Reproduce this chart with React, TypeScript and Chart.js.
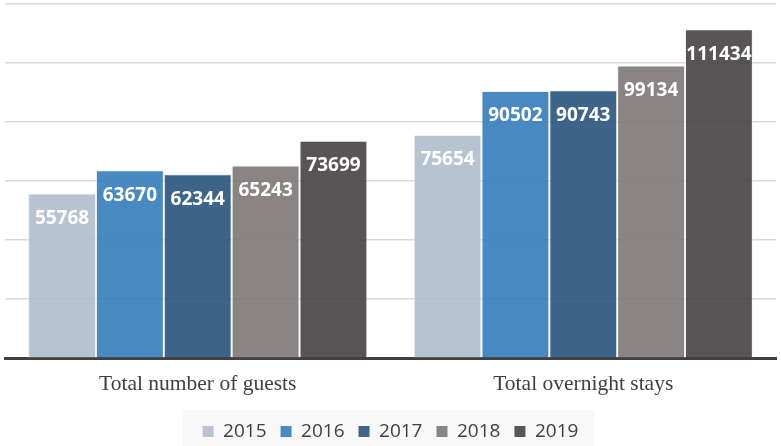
import React, { useEffect, useRef } from "react";
import { Chart, registerables } from "chart.js";

Chart.register(...registerables);

const categories = ["Total number of guests", "Total overnight stays"];
const years = ["2015", "2016", "2017", "2018", "2019"];
const values2015 = [55768, 75654];
const values2016 = [63670, 90502];
const values2017 = [62344, 90743];
const values2018 = [65243, 99134];
const values2019 = [73699, 111434];
const seriesValues = [values2015, values2016, values2017, values2018, values2019];
const colors = [
  "rgba(178,190,206,0.92)",
  "rgba(58,127,189,0.92)",
  "rgba(46,88,127,0.92)",
  "rgba(128,122,121,0.92)",
  "rgba(75,71,72,0.92)",
];
const legendColors = ["#b8c3d2", "#4a89c2", "#3f6589", "#8a8584", "#595657"];

const labelPlugin = {
  id: "barLabels",
  afterDatasetsDraw(chart: any) {
    const ctx = chart.ctx;
    ctx.save();
    ctx.fillStyle = "#ffffff";
    ctx.font = "bold 19px 'Open Sans'";
    ctx.textAlign = "center";
    ctx.textBaseline = "middle";
    chart.data.datasets.forEach((ds: any, i: number) => {
      const meta = chart.getDatasetMeta(i);
      meta.data.forEach((bar: any, j: number) => {
        ctx.fillText(String(ds.data[j]), bar.x, bar.y + 25);
      });
    });
    ctx.restore();
  },
};

const legendBgPlugin = {
  id: "legendBg",
  beforeDraw(chart: any) {
    const boxes = chart.legend && chart.legend.legendHitBoxes;
    if (!boxes || !boxes.length) return;
    const first = boxes[0];
    const last = boxes[boxes.length - 1];
    const ctx = chart.ctx;
    ctx.save();
    ctx.fillStyle = "#f8f8f8";
    ctx.fillRect(first.left - 20, 410, last.left + last.width - first.left + 36, 40);
    ctx.restore();
  },
};

export default function App() {
  const ref = useRef<HTMLCanvasElement>(null);
  useEffect(() => {
    if (!ref.current) return;
    const chart = new Chart(ref.current, {
      type: "bar",
      data: {
        labels: categories,
        datasets: years.map((y, i) => ({
          label: y,
          data: seriesValues[i],
          backgroundColor: colors[i],
          borderColor: "rgba(235,238,244,0.75)",
          borderWidth: 1,
          barPercentage: 1,
          categoryPercentage: 0.88,
        })),
      },
      options: {
        animation: false,
        responsive: false,
        maintainAspectRatio: false,
        layout: { padding: { left: 5, right: 5, top: 4, bottom: -5 } },
        scales: {
          x: {
            grid: { display: false },
            border: { color: "#404040", width: 3 },
            ticks: {
              color: "#404040",
              font: { family: "'Liberation Serif'", size: 21.5 },
              padding: 5,
            },
            afterFit: (scale: any) => {
              scale.height += 6;
            },
          },
          y: {
            min: 0,
            max: 120000,
            ticks: { display: false, stepSize: 20000 },
            grid: { color: "#d9d9d9", lineWidth: 1.5, drawTicks: false },
            border: { display: false },
          },
        },
        plugins: {
          legend: {
            position: "bottom",
            labels: {
              boxWidth: 11,
              boxHeight: 11,
              padding: 14,
              color: "#404040",
              font: { family: "'Open Sans'", size: 19 },
              generateLabels: () =>
                years.map((y, i) => ({
                  text: y,
                  fillStyle: legendColors[i],
                  strokeStyle: legendColors[i],
                  lineWidth: 0,
                  hidden: false,
                  datasetIndex: i,
                  fontColor: "#404040",
                })),
            },
          },
          tooltip: { enabled: false },
        },
      },
      plugins: [labelPlugin, legendBgPlugin],
    });
    return () => chart.destroy();
  }, []);
  return (
    <div style={{ position: "fixed", left: 0, top: 0, width: 781, height: 446, background: "#fff" }}>
      <canvas ref={ref} width={781} height={446} style={{ width: 781, height: 446 }} />
    </div>
  );
}
